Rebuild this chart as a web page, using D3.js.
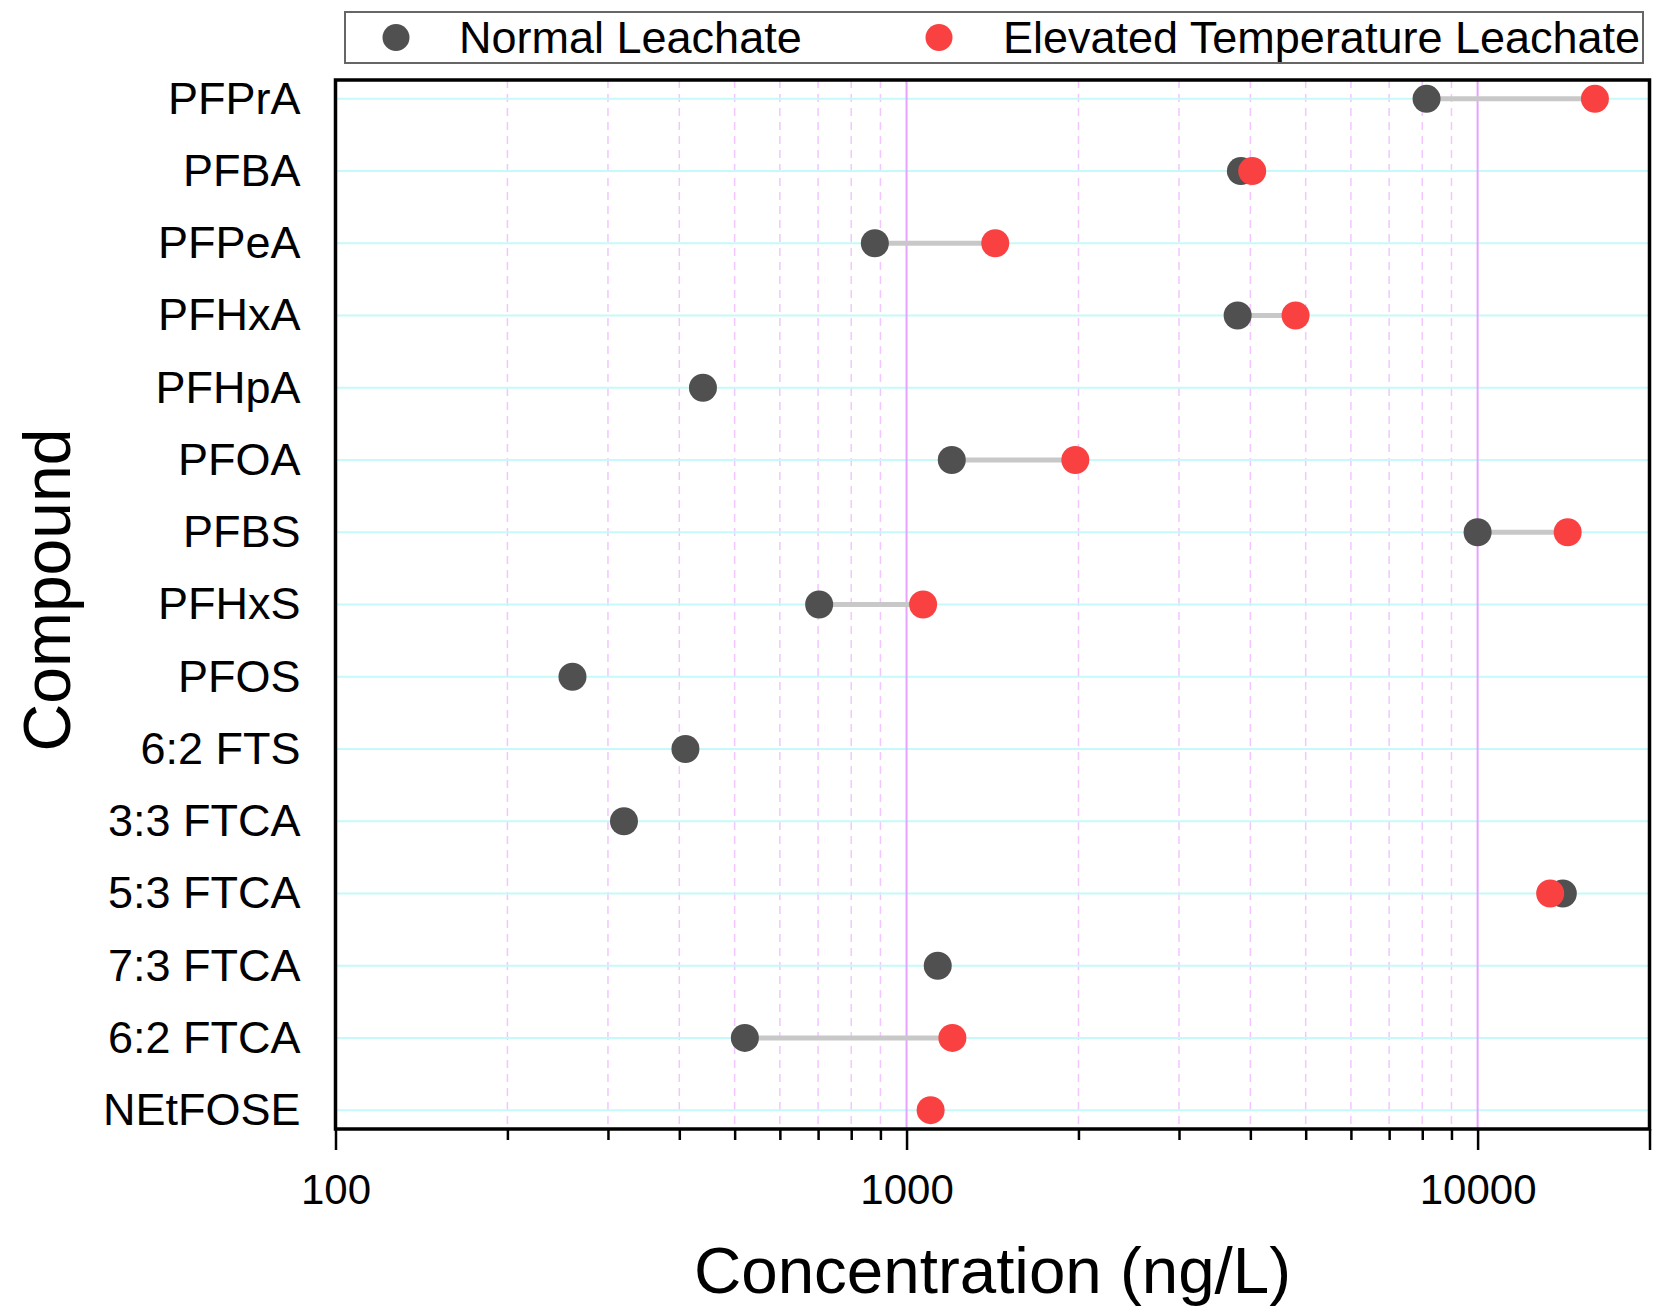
<!DOCTYPE html>
<html>
<head>
<meta charset="utf-8">
<script src="https://cdn.jsdelivr.net/npm/d3@7"></script>
<style>
  body { margin: 0; background: #fff; }
  text { font-family: "Liberation Sans", Arial, sans-serif; fill: #000; }
</style>
</head>
<body>
<div class="chart"></div>
<script>
// compounds, top to bottom
let compounds = ["PFPrA", "PFBA", "PFPeA", "PFHxA", "PFHpA", "PFOA", "PFBS", "PFHxS",
  "PFOS", "6:2 FTS", "3:3 FTCA", "5:3 FTCA", "7:3 FTCA", "6:2 FTCA", "NEtFOSE"];

// ng/L, null = not detected
let normalLeachate = [8140, 3850, 880, 3800, 440, 1200, 10000, 703, 260, 410, 320, 14100, 1134, 521, null];
let elevatedLeachate = [16050, 4030, 1430, 4800, null, 1975, 14380, 1069, null, null, null, 13400, null, 1203, 1102];

let seriesNames = ["Normal Leachate", "Elevated Temperature Leachate"];
let majorTicks = [100, 1000, 10000];
let minorTicks = [200, 300, 400, 500, 600, 700, 800, 900, 2000, 3000, 4000, 5000, 6000, 7000, 8000, 9000];

let colNormal = "#505050";
let colElev = "#fa4141";

let W = 1665, H = 1311;
let margin = { top: 80, right: 15.5, bottom: 182, left: 335.5 };
let width = W - margin.left - margin.right,
  height = H - margin.top - margin.bottom;

let svg = d3.select(".chart").append("svg")
  .attr("width", W)
  .attr("height", H);

let g = svg.append("g")
  .attr("transform", "translate(" + margin.left + "," + margin.top + ")");

let x = d3.scaleLog().domain([100, 20000]).range([0, width]);
let y = d3.scalePoint().domain(compounds).range([0, height]).padding(0.26);

// grid
g.selectAll(".minor-grid").data(minorTicks).enter().append("line")
  .attr("x1", d => x(d)).attr("x2", d => x(d))
  .attr("y1", 0).attr("y2", height)
  .attr("stroke", "#f3c6ff").attr("stroke-width", 1.5)
  .attr("stroke-dasharray", "8,6");

g.selectAll(".hgrid").data(compounds).enter().append("line")
  .attr("x1", 0).attr("x2", width)
  .attr("y1", d => y(d)).attr("y2", d => y(d))
  .attr("stroke", "#c6fafa").attr("stroke-width", 2);

g.selectAll(".major-grid").data(majorTicks.slice(1)).enter().append("line")
  .attr("x1", d => x(d)).attr("x2", d => x(d))
  .attr("y1", 0).attr("y2", height)
  .attr("stroke", "#e6a2ff").attr("stroke-width", 2);

// dumbbell connectors
let rows = compounds.map((c, i) => ({ c: c, a: normalLeachate[i], b: elevatedLeachate[i] }));

g.selectAll(".link").data(rows.filter(d => d.a != null && d.b != null)).enter().append("line")
  .attr("x1", d => x(d.a)).attr("x2", d => x(d.b))
  .attr("y1", d => y(d.c)).attr("y2", d => y(d.c))
  .attr("stroke", "#c8c8c8").attr("stroke-width", 5);

g.selectAll(".dot-n").data(rows.filter(d => d.a != null)).enter().append("circle")
  .attr("cx", d => x(d.a)).attr("cy", d => y(d.c)).attr("r", 14)
  .attr("fill", colNormal);

g.selectAll(".dot-e").data(rows.filter(d => d.b != null)).enter().append("circle")
  .attr("cx", d => x(d.b)).attr("cy", d => y(d.c)).attr("r", 14)
  .attr("fill", colElev);

// x axis (major + minor ticks)
let xMinor = g.append("g")
  .attr("transform", "translate(0," + height + ")")
  .call(d3.axisBottom(x).tickValues(minorTicks).tickSize(11).tickFormat(""));
let xMajor = g.append("g")
  .attr("transform", "translate(0," + height + ")")
  .call(d3.axisBottom(x).tickValues(majorTicks.concat([20000])).tickSize(21)
    .tickPadding(24).tickFormat(d => d === 20000 ? "" : d));
[xMinor, xMajor].forEach(a => {
  a.select(".domain").remove();
  a.selectAll(".tick line").attr("stroke", "#000").attr("stroke-width", 2.5);
});
xMajor.selectAll(".tick text")
  .attr("font-size", 42).attr("fill", "#000")
  .attr("font-family", "'Liberation Sans', Arial, sans-serif");

// y axis labels
let yAxis = g.append("g")
  .call(d3.axisLeft(y).tickSize(0).tickPadding(35));
yAxis.select(".domain").remove();
yAxis.selectAll(".tick text")
  .attr("font-size", 45).attr("fill", "#000")
  .attr("font-family", "'Liberation Sans', Arial, sans-serif");

// frame
g.append("rect")
  .attr("width", width).attr("height", height)
  .attr("fill", "none").attr("stroke", "#000").attr("stroke-width", 3.5);

// titles
svg.append("text")
  .attr("x", margin.left + width / 2).attr("y", 1293)
  .attr("text-anchor", "middle").attr("font-size", 65.5)
  .text("Concentration (ng/L)");

svg.append("text")
  .attr("transform", "translate(70,590) rotate(-90)")
  .attr("text-anchor", "middle").attr("font-size", 66)
  .text("Compound");

// legend
let leg = svg.append("g");
leg.append("rect")
  .attr("x", 345).attr("y", 12).attr("width", 1298).attr("height", 51)
  .attr("fill", "#fff").attr("stroke", "#666").attr("stroke-width", 2);
let legItems = [
  { name: seriesNames[0], col: colNormal, cx: 396, tx: 459 },
  { name: seriesNames[1], col: colElev, cx: 939, tx: 1003 }
];
legItems.forEach(d => {
  leg.append("circle").attr("cx", d.cx).attr("cy", 37.5).attr("r", 13.5).attr("fill", d.col);
  leg.append("text").attr("x", d.tx).attr("y", 53).attr("font-size", 45).text(d.name);
});
</script>
</body>
</html>
